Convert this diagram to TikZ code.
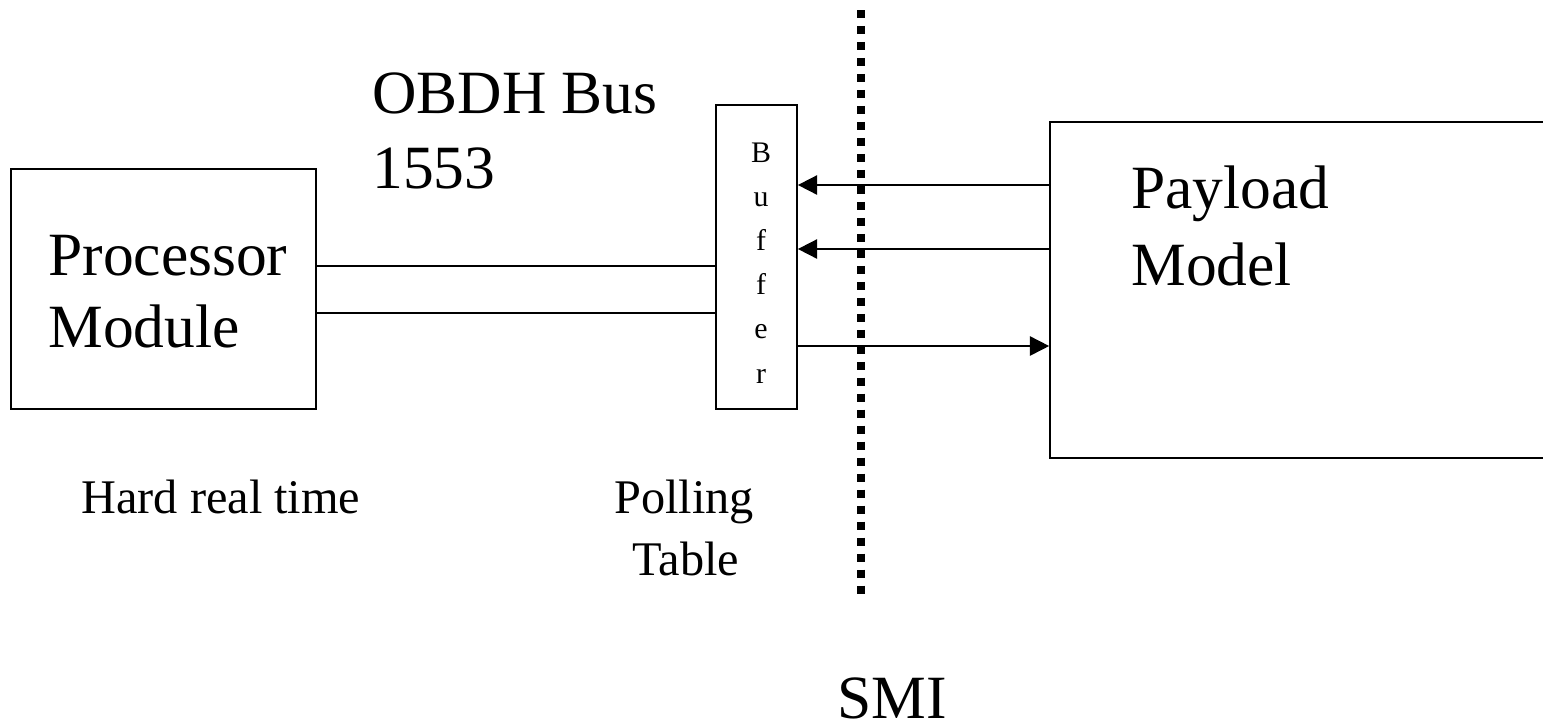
\documentclass[tikz,border=0pt]{standalone}
\usepackage{fontspec}
\setmainfont{Liberation Serif}
\usetikzlibrary{arrows.meta}

\begin{document}
\begin{tikzpicture}[
    x=0.02cm, y=-0.02cm,
    box/.style={draw, line width=1pt, inner sep=0pt},
    bigtxt/.style={inner sep=0pt, font=\fontsize{35}{42}\selectfont},
    midtxt/.style={inner sep=0pt, font=\fontsize{27.5}{33}\selectfont},
    buftxt/.style={inner sep=0pt, font=\fontsize{17}{20}\selectfont},
    bus/.style={line width=1pt},
    sig/.style={-{Triangle[length=11pt,width=11pt]}, line width=1pt},
    border/.style={line width=4.55pt, dash pattern=on 4.55pt off 4.55pt}
    ]

    \clip (0,0) rectangle (1543,725);

    \node[box, minimum width=6.1cm, minimum height=4.8cm] (proc) at (163.5,289) {};
    \node[box, minimum width=1.62cm, minimum height=6.08cm] (buffer) at (756.5,257) {};
    \node[box, minimum width=10.2cm, minimum height=6.72cm] (payload) at (1305,290) {};

    \node[bigtxt, anchor=base west] (proc1) at (48,275) {Processor};
    \node[bigtxt, anchor=base west] (proc2) at (48,347) {Module};
    \node[bigtxt, anchor=base west] (pay1) at (1131,208) {Payload};
    \node[bigtxt, anchor=base west] (pay2) at (1131,285) {Model};
    \node[bigtxt, anchor=base west] (obdh1) at (372,113) {OBDH Bus};
    \node[bigtxt, anchor=base west] (obdh2) at (372,188) {1553};
    \node[bigtxt, anchor=base] (smi) at (892,718) {SMI};

    \node[midtxt, anchor=base west] (hard) at (81,513) {Hard real time};
    \node[midtxt, anchor=base] (poll1) at (684,513) {Polling};
    \node[midtxt, anchor=base] (poll2) at (686,575) {Table};

    \foreach \ch [count=\i from 0] in {B,u,f,f,e,r}
        \node[buftxt, anchor=base] (buf\i) at (761,{162+44.2*\i}) {\ch};

    \coordinate (smitop) at (860.5,10);
    \coordinate (smibot) at (860.5,594);
    \draw[border] (smitop) -- (smibot);

    \draw[bus] (proc.east |- 0,266) -- (buffer.west |- 0,266);
    \draw[bus] (proc.east |- 0,313) -- (buffer.west |- 0,313);

    \draw[sig] (payload.west |- 0,185) -- (buffer.east |- 0,185);
    \draw[sig] (payload.west |- 0,249) -- (buffer.east |- 0,249);
    \draw[sig] (buffer.east |- 0,346) -- (payload.west |- 0,346);

\end{tikzpicture}
\end{document}
